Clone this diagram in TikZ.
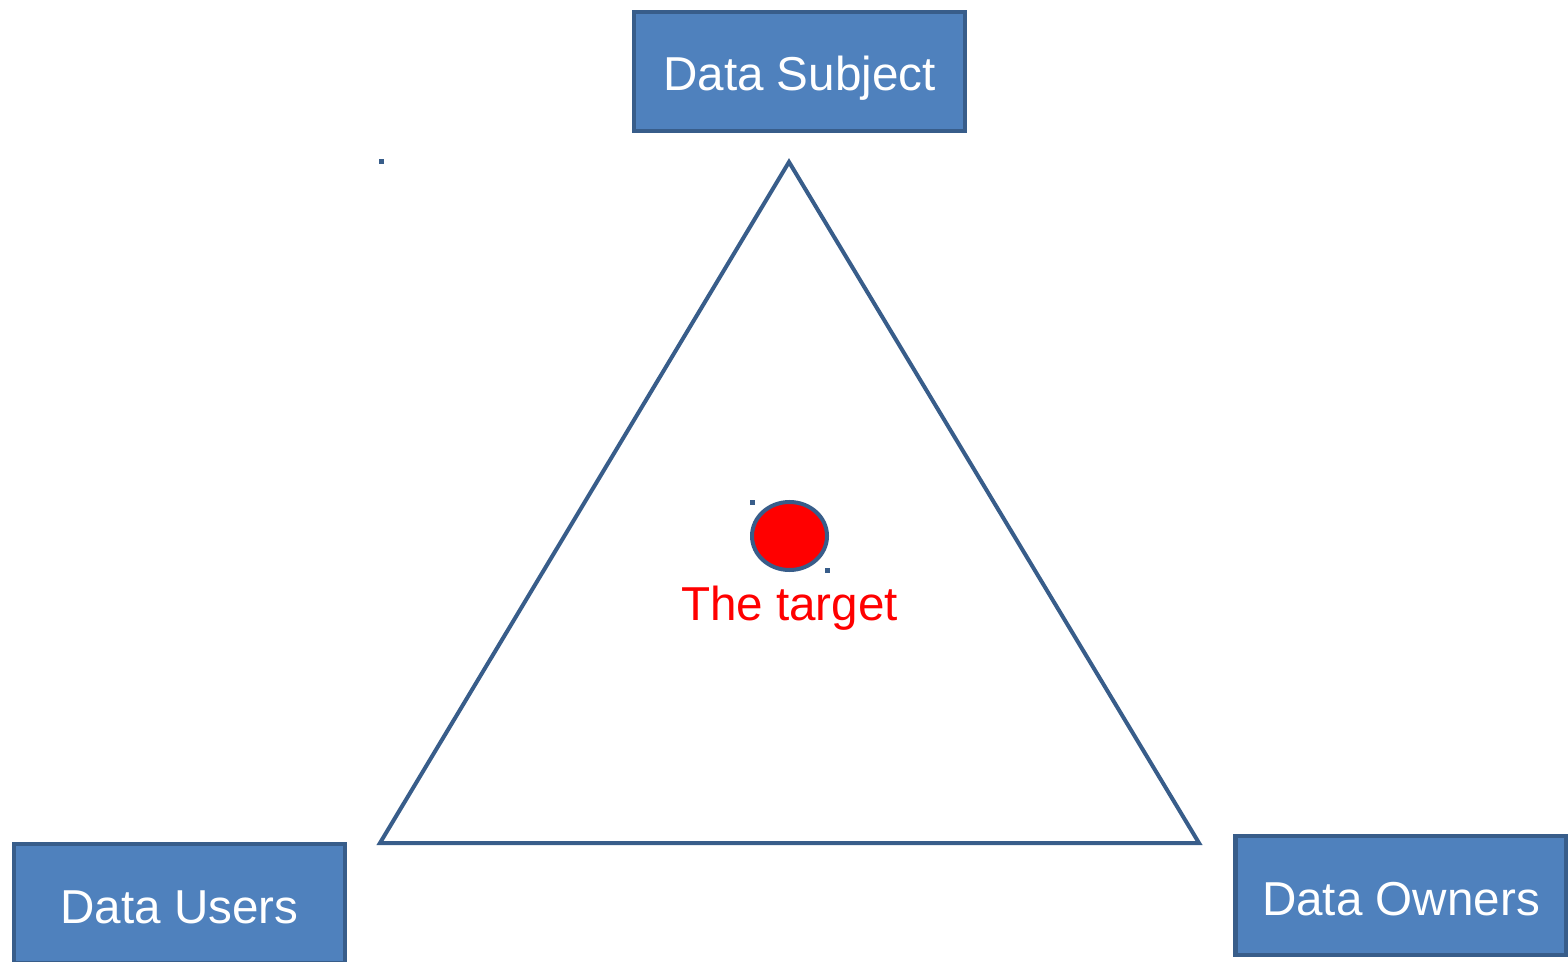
\documentclass[tikz,border=0pt]{standalone}
\usepackage{fontspec}
\setmainfont{Liberation Sans}
\usetikzlibrary{shapes.geometric}
\definecolor{boxfill}{HTML}{4F81BD}
\definecolor{boxline}{HTML}{385D8A}
\tikzset{
  party/.style = {rectangle, draw=boxline, fill=boxfill, line width=2.4pt,
    minimum width=165.5pt, minimum height=59.5pt, inner sep=0pt,
    text height=19.5pt, text depth=0pt,
    text=white, font=\fontsize{23.8}{28}\selectfont},% acteur
  bullseye/.style = {ellipse, draw=boxline, fill=red, line width=2pt,
    minimum width=37.5pt, minimum height=34pt, inner sep=0pt},% la cible
  handle/.style = {rectangle, fill=boxline, inner sep=0pt,
    minimum size=2.5pt},% petit point
  tri/.style = {draw=boxline, line width=2pt}
}

\begin{document}
\begin{tikzpicture}[x=0.5pt,y=-0.5pt]
\useasboundingbox (0,0) rectangle (1568,962);
% the three parties
\node [party] (subject) at (799.5,71.5) {Data Subject};
\node [party] (users) at (179.5,903.5) {Data Users};
\node [party] (owners) at (1401,895.5) {Data Owners};
% triangle
\coordinate (apex) at (789,162);
\coordinate (left) at (380,843);
\coordinate (right) at (1199,843);
\draw [tri] (apex) -- (left) -- (right) -- cycle;
% target
\node [bullseye] (target) at (789.5,536) {};
\node [text=red, anchor=base, font=\fontsize{23.8}{28}\selectfont]
  (label) at (789.5,620) {The target};
% stray points
\node [handle] (h1) at (381,162) {};
\node [handle] (h2) at (752,502) {};
\node [handle] (h3) at (827,570) {};
\end{tikzpicture}
\end{document}
